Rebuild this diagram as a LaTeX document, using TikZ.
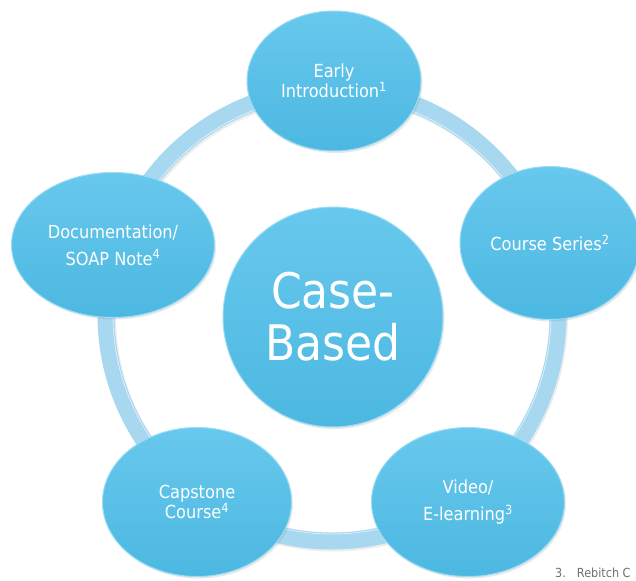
\documentclass[tikz,border=0pt]{standalone}
\usepackage{fontspec}
\setmainfont[FakeStretch=0.9]{DejaVu Sans}
\usetikzlibrary{shapes.geometric}
\usetikzlibrary{shadows}
\usetikzlibrary{calc}
\usepackage{xcolor}
\definecolor{bubtop}{HTML}{68C8ED}
\definecolor{bubbot}{HTML}{4CB8E1}
\definecolor{bubrim}{HTML}{9ADCF4}
\definecolor{ringblue}{HTML}{A8D8F0}
\definecolor{notegray}{HTML}{707070}

\begin{document}
\begin{tikzpicture}[x=1pt, y=-1pt]
        % ================= styles =================
        \tikzset{
            % blue bubble (outer topics)
            bubble/.style={ellipse, draw=bubrim, line width=1pt, top color=bubtop, bottom color=bubbot,
                inner sep=0pt, text=white, align=center, font=\fontsize{18}{19}\selectfont,
                drop shadow={opacity=0.18, shadow xshift=1.5pt, shadow yshift=-2pt}},
            % big centre bubble
            hub_node/.style={bubble, circle, minimum size=220pt, font=\fontsize{49}{52}\selectfont},
            % light ring behind the bubbles
            ring_band/.style={line width=17pt, ringblue},
            ring_shade/.style={line width=17pt, black!7},
            ring_light/.style={line width=0.8pt, white!60!ringblue}
        }

        \useasboundingbox (0,0) rectangle (636,580);

        % ================= coordinates =================
        \def\R{226}
        \coordinate (hub_p) at (332,315);

        % ================= ring =================
        \draw[ring_shade] ($(hub_p)+(1.5,2)$) circle[radius=\R];
        \draw[ring_band] (hub_p) circle[radius=\R];
        \draw[ring_light] (hub_p) circle[radius=\R-7];

        % ================= bubbles =================
        \node[bubble, minimum width=174pt, minimum height=140pt] (early) at (334,81)
            {Early\\Introduction\textsuperscript{1}};
        \node[bubble, minimum width=180pt, minimum height=153pt] (course) at (550,243)
            {Course Series\textsuperscript{2}};
        \node[bubble, minimum width=193pt, minimum height=149pt] (video) at (468,502)
            {Video/\\[8pt]E-learning\textsuperscript{3}};
        \node[bubble, minimum width=189pt, minimum height=149pt] (capstone) at (197,502)
            {Capstone\\Course\textsuperscript{4}};
        \node[bubble, minimum width=203pt, minimum height=145pt] (docu) at (113,245)
            {Documentation/\\[8pt]SOAP Note\textsuperscript{4}};

        % centre
        \node[hub_node] (case) at (333,317) {Case-\\Based};

        % ================= reference note =================
        \node[anchor=base west, inner sep=0pt, text=notegray, font=\fontsize{12.5}{13}\selectfont]
            (ref3) at (555,577) {3.\hspace{11pt}Rebitch C};

\end{tikzpicture}
\end{document}
